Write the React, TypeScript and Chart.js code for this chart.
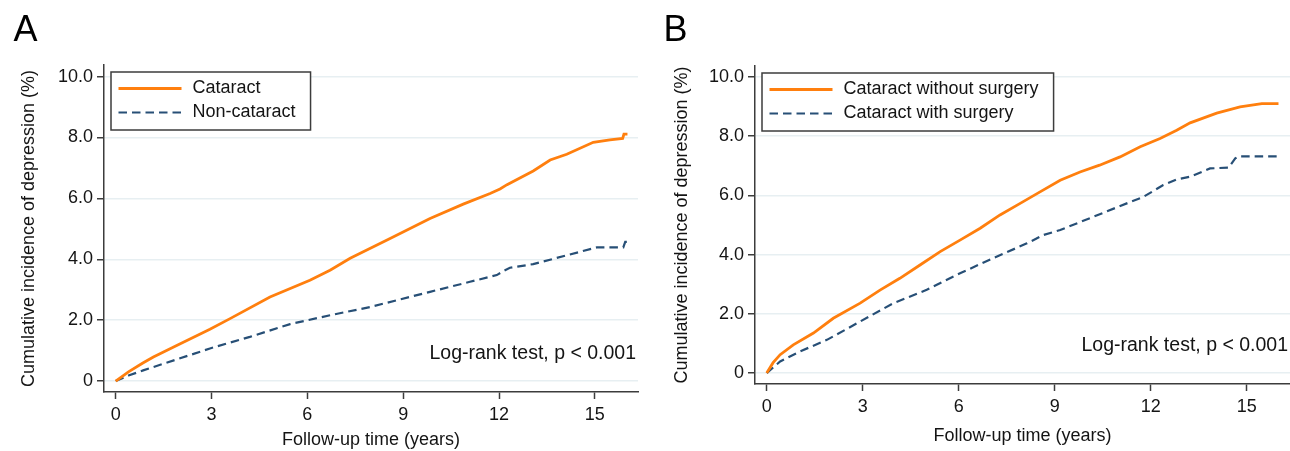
import React, { useEffect, useRef } from 'react';
import { Chart, registerables } from 'chart.js';

Chart.register(...registerables);

// ---------- Data ----------
const X_TICKS = [0, 3, 6, 9, 12, 15];
const Y_TICKS = [0, 2, 4, 6, 8, 10];

// Panel A
const A_CATARACT_T = [0, 0.4, 0.85, 1.18, 1.91, 2.95, 3.58, 4.83, 6.08, 6.71, 7.34, 8.59, 9.84, 10.88, 11.72, 12.03, 12.25, 13.07, 13.6, 14.12, 14.95, 15.47, 15.87, 15.91, 16.02];
const A_CATARACT_V = [0, 0.3, 0.59, 0.79, 1.17, 1.7, 2.05, 2.76, 3.31, 3.64, 4.03, 4.68, 5.34, 5.81, 6.16, 6.31, 6.45, 6.9, 7.26, 7.45, 7.84, 7.92, 7.97, 8.11, 8.11];
const A_NONCAT_T = [0, 0.4, 0.86, 1.91, 2.95, 4.2, 5.46, 6.71, 7.96, 8.9, 9.84, 11.09, 11.93, 12.15, 12.34, 13.07, 14.12, 15.06, 15.89, 15.95, 16.0];
const A_NONCAT_V = [0, 0.18, 0.35, 0.71, 1.07, 1.45, 1.87, 2.16, 2.43, 2.68, 2.93, 3.26, 3.48, 3.62, 3.72, 3.84, 4.13, 4.39, 4.39, 4.57, 4.57];

// Panel B
const B_NOSURG_T = [0, 0.2, 0.42, 0.83, 1.46, 2.08, 2.92, 3.54, 4.16, 4.79, 5.42, 6.04, 6.67, 7.29, 7.92, 8.54, 9.17, 9.79, 10.4, 11.04, 11.67, 12.29, 12.81, 13.23, 14.06, 14.79, 15.47, 15.99];
const B_NOSURG_V = [0, 0.35, 0.62, 0.95, 1.35, 1.85, 2.36, 2.8, 3.2, 3.65, 4.1, 4.49, 4.89, 5.34, 5.73, 6.12, 6.51, 6.79, 7.02, 7.3, 7.64, 7.92, 8.2, 8.45, 8.78, 8.99, 9.1, 9.1];
const B_SURG_T = [0, 0.42, 1.04, 1.88, 2.92, 3.96, 5.0, 6.04, 7.08, 8.13, 8.64, 9.17, 10.21, 11.25, 11.77, 12.39, 12.81, 13.23, 13.85, 14.43, 14.64, 14.74, 15.99];
const B_SURG_V = [0, 0.39, 0.73, 1.12, 1.74, 2.36, 2.81, 3.37, 3.88, 4.38, 4.66, 4.83, 5.28, 5.73, 5.95, 6.35, 6.54, 6.63, 6.91, 6.94, 7.25, 7.32, 7.32];

const A_LABELS = ['Cataract', 'Non-cataract'];
const B_LABELS = ['Cataract without surgery', 'Cataract with surgery'];
const NOTE = 'Log-rank test, p < 0.001';
const X_TITLE = 'Follow-up time (years)';
const Y_TITLE = 'Cumulative incidence of depression (%)';

// ---------- Styles ----------
const FONT = "'Liberation Sans', Arial, Helvetica, sans-serif";
const ORANGE = '#FF7F0E';
const NAVY = '#274F76';
const AXIS = '#3c3c3c';
const GRID = '#E7EFF2';
const TEXT = '#141414';

const zip = (t: number[], v: number[]) => t.map((x, i) => ({ x, y: v[i] }));

const decorPlugin = {
  id: 'decor',
  afterDraw(chart: any, _args: any, opts: any) {
    const { ctx, chartArea } = chart;
    ctx.save();
    // panel letter
    ctx.font = `36px ${FONT}`;
    ctx.fillStyle = '#000';
    ctx.textAlign = 'left';
    ctx.textBaseline = 'alphabetic';
    ctx.fillText(opts.letter, opts.letterX, 41);

    // legend
    ctx.font = `18px ${FONT}`;
    const ds = chart.data.datasets;
    const bx = chartArea.left + 7;
    const by = chartArea.top + 7;
    const textOff = 81.5;
    const maxW = Math.max(...ds.map((d: any) => ctx.measureText(d.label).width));
    const bw = textOff + maxW + 15;
    const bh = 58;
    ctx.fillStyle = '#fff';
    ctx.fillRect(bx, by, bw, bh);
    ctx.strokeStyle = AXIS;
    ctx.lineWidth = 1.5;
    ctx.setLineDash([]);
    ctx.strokeRect(bx, by, bw, bh);
    ds.forEach((d: any, i: number) => {
      const y = by + 16.5 + i * 24;
      ctx.beginPath();
      ctx.strokeStyle = d.borderColor;
      ctx.lineWidth = d.borderWidth;
      ctx.setLineDash(d.borderDash || []);
      ctx.moveTo(bx + 7.5, y);
      ctx.lineTo(bx + 70.5, y);
      ctx.stroke();
      ctx.setLineDash([]);
      ctx.fillStyle = TEXT;
      ctx.textAlign = 'left';
      ctx.textBaseline = 'middle';
      ctx.fillText(d.label, bx + textOff, y);
    });

    // log-rank note
    ctx.font = `19.5px ${FONT}`;
    ctx.fillStyle = TEXT;
    ctx.textAlign = 'right';
    ctx.textBaseline = 'alphabetic';
    ctx.fillText(opts.note, chartArea.right - 2, chartArea.bottom - 33);
    ctx.restore();
  },
};

interface PanelCfg {
  letter: string;
  letterX: number;
  labels: string[];
  t1: number[]; v1: number[];
  t2: number[]; v2: number[];
  xMin: number; xMax: number; yMin: number; yMax: number;
  yAxisWidth: number; xAxisHeight: number;
  padTop: number; padRight: number;
  yTitlePad: number; xTitlePad: number;
}

const PANEL_A: PanelCfg = {
  letter: 'A', letterX: 13.5, labels: A_LABELS,
  t1: A_CATARACT_T, v1: A_CATARACT_V, t2: A_NONCAT_T, v2: A_NONCAT_V,
  xMin: -0.366, xMax: 16.35, yMin: -0.36, yMax: 10.38,
  yAxisWidth: 104, xAxisHeight: 59, padTop: 65, padRight: 7,
  yTitlePad: 18.5, xTitlePad: 0,
};

const PANEL_B: PanelCfg = {
  letter: 'B', letterX: 18.4, labels: B_LABELS,
  t1: B_NOSURG_T, v1: B_NOSURG_V, t2: B_SURG_T, v2: B_SURG_V,
  xMin: -0.366, xMax: 16.35, yMin: -0.37, yMax: 10.37,
  yAxisWidth: 110, xAxisHeight: 67, padTop: 66, padRight: 0,
  yTitlePad: 26, xTitlePad: 4,
};

function Panel({ cfg }: { cfg: PanelCfg }) {
  const ref = useRef<HTMLCanvasElement>(null);
  useEffect(() => {
    const tickFont = { family: FONT, size: 18 };
    const chart = new Chart(ref.current as HTMLCanvasElement, {
      type: 'line',
      data: {
        datasets: [
          {
            label: cfg.labels[0],
            data: zip(cfg.t1, cfg.v1),
            borderColor: ORANGE,
            borderWidth: 2.8,
            pointRadius: 0,
            tension: 0,
            fill: false,
          },
          {
            label: cfg.labels[1],
            data: zip(cfg.t2, cfg.v2),
            borderColor: NAVY,
            borderWidth: 2.2,
            borderDash: [8.5, 5],
            pointRadius: 0,
            tension: 0,
            fill: false,
          },
        ],
      },
      options: {
        responsive: false,
        animation: false,
        devicePixelRatio: 1,
        layout: { padding: { top: cfg.padTop, right: cfg.padRight, left: 0, bottom: 0 } },
        plugins: {
          legend: { display: false },
          tooltip: { enabled: false },
          decor: { letter: cfg.letter, letterX: cfg.letterX, note: NOTE },
        } as any,
        scales: {
          x: {
            type: 'linear',
            min: cfg.xMin,
            max: cfg.xMax,
            afterBuildTicks: (s: any) => { s.ticks = X_TICKS.map((value) => ({ value })); },
            afterFit: (s: any) => { s.height = cfg.xAxisHeight; },
            grid: { display: true, drawOnChartArea: false, drawTicks: true, tickLength: 7, tickColor: AXIS, tickWidth: 1.5 },
            border: { display: true, color: AXIS, width: 1.5 },
            ticks: { font: tickFont, color: TEXT, padding: 5, maxRotation: 0, autoSkip: false, callback: (v: any) => String(v) },
            title: { display: true, text: X_TITLE, font: tickFont, color: TEXT, padding: { top: 0, bottom: cfg.xTitlePad } },
          },
          y: {
            type: 'linear',
            min: cfg.yMin,
            max: cfg.yMax,
            afterBuildTicks: (s: any) => { s.ticks = Y_TICKS.map((value) => ({ value })); },
            afterFit: (s: any) => { s.width = cfg.yAxisWidth; },
            grid: { display: true, drawOnChartArea: true, color: GRID, lineWidth: 1.5, drawTicks: true, tickLength: 7, tickColor: AXIS, tickWidth: 1.5 },
            border: { display: true, color: AXIS, width: 1.5 },
            ticks: { font: tickFont, color: TEXT, padding: 4, autoSkip: false, callback: (v: any) => (Number(v) === 0 ? '0' : Number(v).toFixed(1)) },
            title: { display: true, text: Y_TITLE, font: tickFont, color: TEXT, padding: { top: cfg.yTitlePad, bottom: 0 } },
          },
        },
      } as any,
      plugins: [decorPlugin],
    });
    return () => chart.destroy();
  }, [cfg]);
  return <canvas ref={ref} width={645} height={451} style={{ display: 'block', width: 645, height: 451 }} />;
}

export default function App() {
  return (
    <div style={{ position: 'fixed', left: 0, top: 0, width: 1290, height: 451, background: '#fff', display: 'flex' }}>
      <Panel cfg={PANEL_A} />
      <Panel cfg={PANEL_B} />
    </div>
  );
}
